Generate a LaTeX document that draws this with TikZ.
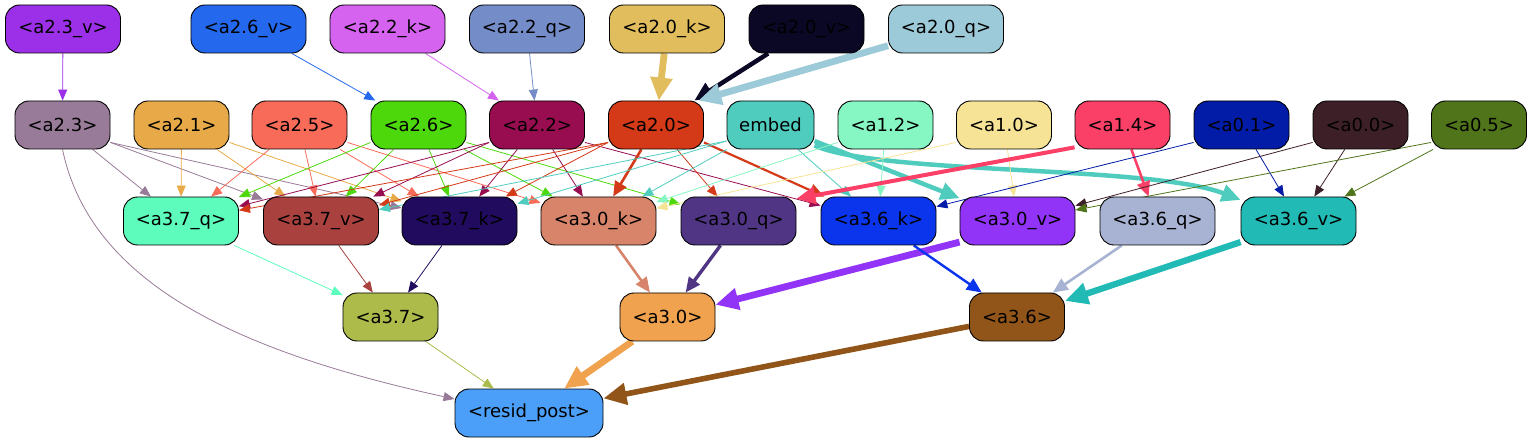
\documentclass[tikz,border=0pt]{standalone}
\usepackage{fontspec}
\setmainfont{DejaVu Sans}
\usetikzlibrary{arrows.meta}
\pgfdeclarelayer{bg}
\pgfsetlayers{bg,main}
\definecolor{c23v}{HTML}{9B30E8}
\definecolor{c26v}{HTML}{2468EE}
\definecolor{c22k}{HTML}{D563F0}
\definecolor{c22q}{HTML}{748CC7}
\definecolor{c20k}{HTML}{E2BD5E}
\definecolor{c20v}{HTML}{0B0826}
\definecolor{c20q}{HTML}{9DCAD8}
\definecolor{c23}{HTML}{987B98}
\definecolor{c21}{HTML}{E8AA48}
\definecolor{c25}{HTML}{F96B59}
\definecolor{c26}{HTML}{4DD80C}
\definecolor{c22}{HTML}{970D50}
\definecolor{c20}{HTML}{D43918}
\definecolor{cemb}{HTML}{50CCBF}
\definecolor{c12}{HTML}{86F6C2}
\definecolor{c10}{HTML}{F6E396}
\definecolor{c14}{HTML}{FB4067}
\definecolor{c01}{HTML}{021CA8}
\definecolor{c00}{HTML}{3D2027}
\definecolor{c05}{HTML}{4F741A}
\definecolor{c37q}{HTML}{5DFCBC}
\definecolor{c37v}{HTML}{A9413F}
\definecolor{c37k}{HTML}{210B5E}
\definecolor{c30k}{HTML}{D7846A}
\definecolor{c30q}{HTML}{503585}
\definecolor{c36k}{HTML}{0A35EC}
\definecolor{c30v}{HTML}{9233F8}
\definecolor{c36q}{HTML}{A8B3D3}
\definecolor{c36v}{HTML}{22BAB5}
\definecolor{c37}{HTML}{ADBB4A}
\definecolor{c30}{HTML}{F0A24F}
\definecolor{c36}{HTML}{915519}
\definecolor{cres}{HTML}{4C9FF8}
\begin{document}
\begin{tikzpicture}[x=1pt,y=-1pt,
  nd/.style={draw=black, line width=0.9pt, rounded corners=14pt, minimum height=48pt,
    inner sep=0pt, text=black, font=\fontsize{18pt}{20pt}\selectfont},
  wt/.style={nd, minimum width=115pt},
  wm/.style={nd, minimum width=95pt},
  e1/.style={line width=0.8pt, -{Triangle[length=11pt,width=9pt]}},
  e2/.style={line width=2.6pt, -{Triangle[length=15pt,width=13pt]}},
  e3/.style={line width=4.5pt, -{Triangle[length=19pt,width=17pt]}},
  e4/.style={line width=6.8pt, -{Triangle[length=23pt,width=21pt]}}]
\useasboundingbox (0,0) rectangle (1531,443);
% top row
\node[wt, fill=c23v] (a23v) at (63,29) {<a2.3\_v>};
\node[wt, fill=c26v] (a26v) at (248.5,29) {<a2.6\_v>};
\node[wt, fill=c22k] (a22k) at (387.5,29) {<a2.2\_k>};
\node[wt, fill=c22q] (a22q) at (527,29) {<a2.2\_q>};
\node[wt, fill=c20k] (a20k) at (667,29) {<a2.0\_k>};
\node[wt, fill=c20v] (a20v) at (806.5,29) {<a2.0\_v>};
\node[wt, fill=c20q] (a20q) at (946,29) {<a2.0\_q>};
% second row
\node[wm, fill=c23] (a23) at (62.5,125) {<a2.3>};
\node[wm, fill=c21] (a21) at (181.5,125) {<a2.1>};
\node[wm, fill=c25] (a25) at (299.5,125) {<a2.5>};
\node[wm, fill=c26] (a26) at (418.5,125) {<a2.6>};
\node[wm, fill=c22] (a22) at (537,125) {<a2.2>};
\node[wm, fill=c20] (a20) at (656,125) {<a2.0>};
\node[nd, minimum width=87pt, fill=cemb] (emb) at (770.5,125) {embed};
\node[wm, fill=c12] (a12) at (885.5,125) {<a1.2>};
\node[wm, fill=c10] (a10) at (1004,125) {<a1.0>};
\node[wm, fill=c14] (a14) at (1122.5,125) {<a1.4>};
\node[wm, fill=c01] (a01) at (1241.5,125) {<a0.1>};
\node[wm, fill=c00] (a00) at (1360.5,125) {<a0.0>};
\node[wm, fill=c05] (a05) at (1479,125) {<a0.5>};
% third row
\node[wt, fill=c37q] (a37q) at (181,221) {<a3.7\_q>};
\node[wt, fill=c37v] (a37v) at (321,221) {<a3.7\_v>};
\node[wt, fill=c37k] (a37k) at (459.5,221) {<a3.7\_k>};
\node[wt, fill=c30k] (a30k) at (598.5,221) {<a3.0\_k>};
\node[wt, fill=c30q] (a30q) at (738.5,221) {<a3.0\_q>};
\node[wt, fill=c36k] (a36k) at (878.5,221) {<a3.6\_k>};
\node[wt, fill=c30v] (a30v) at (1017.5,221) {<a3.0\_v>};
\node[wt, fill=c36q] (a36q) at (1157.5,221) {<a3.6\_q>};
\node[wt, fill=c36v] (a36v) at (1298.5,221) {<a3.6\_v>};
% fourth row
\node[wm, fill=c37] (a37) at (390.5,317) {<a3.7>};
\node[wm, fill=c30] (a30) at (667.5,317) {<a3.0>};
\node[wm, fill=c36] (a36) at (1017,317) {<a3.6>};
\node[nd, minimum width=148pt, fill=cres] (res) at (529,413) {<resid\_post>};
\begin{pgfonlayer}{bg}
% top -> second
\draw[e1, c23v] (a23v) -- (a23);
\draw[e1, c26v] (a26v) -- (a26);
\draw[e1, c22k] (a22k) -- (a22);
\draw[e1, c22q] (a22q) -- (a22);
\draw[e4, c20k] (a20k) -- (a20);
\draw[e3, c20v] (a20v) -- (a20);
\draw[e4, c20q] (a20q) -- (a20.30);
% a2.3
\draw[e1, c23] (a23) -- (a37q);
\draw[e1, c23] (a23.340) -- (a37v);
\draw[e1, c23] (a23.340) -- (a37k);
\draw[e1, c23] (a23.south) .. controls (90,280) and (230,350) .. ([yshift=14pt]res.west);
% a2.1
\draw[e1, c21] (a21) -- (a37q);
\draw[e1, c21] (a21) -- (a37v);
\draw[e1, c21] (a21.340) -- (a37k);
% a2.5
\draw[e1, c25] (a25) -- (a37q);
\draw[e1, c25] (a25) -- (a37v);
\draw[e1, c25] (a25) -- (a37k);
\draw[e1, c25] (a25.340) -- (a30k);
% a2.6
\draw[e1, c26] (a26.200) -- (a37q);
\draw[e1, c26] (a26) -- (a37v);
\draw[e1, c26] (a26) -- (a37k);
\draw[e1, c26] (a26) -- (a30k);
\draw[e1, c26] (a26.340) -- (a30q);
% a2.2
\draw[e1, c22] (a22.200) -- (a37q);
\draw[e1, c22] (a22.200) -- (a37v);
\draw[e1, c22] (a22) -- (a37k);
\draw[e1, c22] (a22) -- (a30k);
\draw[e1, c22] (a22.340) -- (a36k);
% a2.0
\draw[e1, c20] (a20.200) -- (a37q);
\draw[e1, c20] (a20.200) -- (a37v);
\draw[e1, c20] (a20.200) -- (a37k);
\draw[e2, c20] (a20) -- (a30k);
\draw[e1, c20] (a20) -- (a30q);
\draw[e2, line width=2.2pt, c20] (a20.340) -- (a36k);
% embed
\draw[e1, cemb] (emb.200) -- (a37v);
\draw[e1, cemb] (emb.200) -- (a37k);
\draw[e1, cemb] (emb) -- (a30k);
\draw[e1, cemb] (emb) -- (a36k);
\draw[e3, cemb] (emb.340) -- (a30v);
\draw[e3, cemb] (emb.-25) .. controls (880,175) and (1150,165) .. (a36v.160);
% a1.x
\draw[e1, c12] (a12) -- (a36k);
\draw[e1, c12] (a12.200) -- (a30k);
\draw[e1, c10] (a10) -- (a30v);
\draw[e1, c10] (a10.200) -- (a30k);
\draw[e3, line width=4pt, c14] (a14.205) -- (a30q.21);
\draw[e2, c14] (a14) -- (a36q);
% a0.x
\draw[e1, c01] (a01.200) -- (a36k);
\draw[e1, c01] (a01) -- (a36v);
\draw[e1, c00] (a00.200) -- (a30v);
\draw[e1, c00] (a00) -- (a36v);
\draw[e1, c05] (a05.200) -- (a30v);
\draw[e1, c05] (a05) -- (a36v);
% third -> fourth
\draw[e1, c37q] (a37q) -- (a37);
\draw[e1, c37v] (a37v) -- (a37);
\draw[e1, c37k] (a37k) -- (a37);
\draw[e2, c30k] (a30k) -- (a30);
\draw[e2, line width=3.4pt, c30q] (a30q) -- (a30);
\draw[e4, c30v] (a30v.200) -- (a30);
\draw[e2, line width=2.4pt, c36k] (a36k) -- (a36);
\draw[e2, c36q] (a36q) -- (a36);
\draw[e4, line width=6.3pt, c36v] (a36v.200) -- (a36);
% fourth -> resid
\draw[e1, c37] (a37) -- (res);
\draw[e4, c30] (a30) -- (res);
\draw[e4, line width=5.6pt, c36] (a36) -- (res);
\end{pgfonlayer}
\end{tikzpicture}
\end{document}
